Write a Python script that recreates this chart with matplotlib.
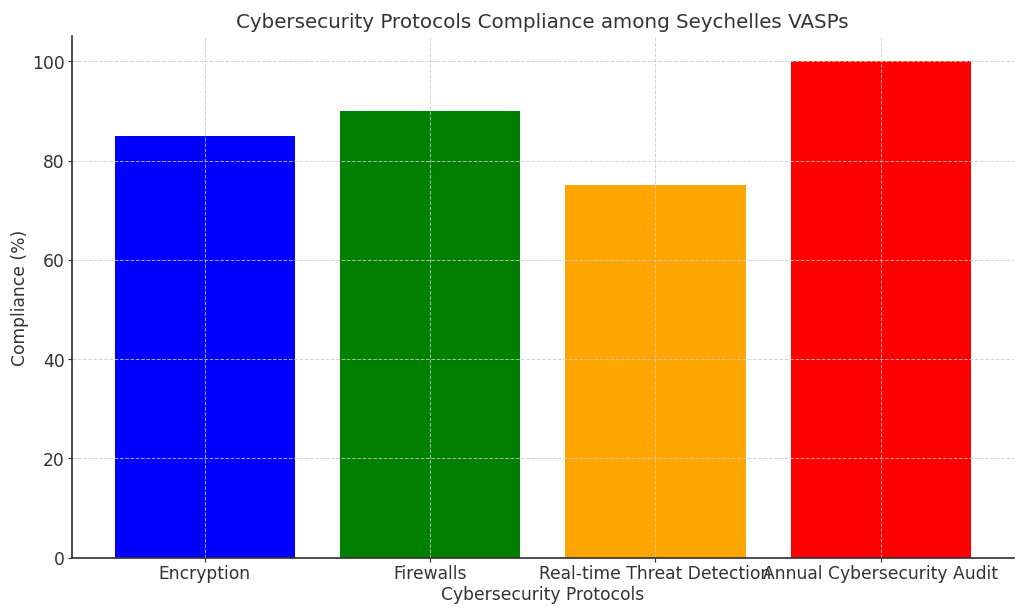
import matplotlib.pyplot as plt

protocols = ['Encryption', 'Firewalls', 'Real-time Threat Detection', 'Annual Cybersecurity Audit']
compliance = [85, 90, 75, 100]
colors = ['blue', 'green', 'orange', 'red']

plt.rcParams['text.color'] = '#333333'
plt.rcParams['axes.labelcolor'] = '#333333'
plt.rcParams['xtick.color'] = '#333333'
plt.rcParams['ytick.color'] = '#333333'
plt.rcParams['axes.edgecolor'] = '#333333'

fig, ax = plt.subplots(figsize=(10, 5.99), dpi=102.4)
ax.bar(protocols, compliance, color=colors)
ax.set_title('Cybersecurity Protocols Compliance among Seychelles VASPs', fontsize=14)
ax.set_xlabel('Cybersecurity Protocols', fontsize=12, labelpad=2)
ax.set_ylabel('Compliance (%)', fontsize=12, labelpad=2)
ax.tick_params(labelsize=12, length=3, pad=2)
ax.grid(True, linestyle='--', color='#cccccc', linewidth=0.7, alpha=0.8)
ax.spines['top'].set_visible(False)
ax.spines['right'].set_visible(False)
ax.spines['left'].set_linewidth(1.2)
ax.spines['bottom'].set_linewidth(1.2)
ax.set_ylim(0, 105)
plt.subplots_adjust(left=0.07, right=0.99, top=0.94, bottom=0.09)
plt.savefig('out.png')
